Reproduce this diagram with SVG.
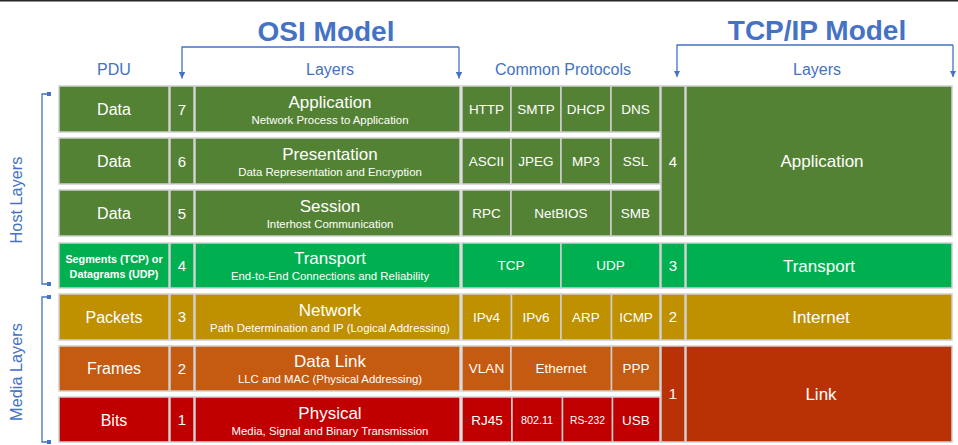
<svg xmlns="http://www.w3.org/2000/svg" width="958" height="445" viewBox="0 0 958 445">
<style>
.c{stroke:#cfcfcf;stroke-width:1.5}
.g{fill:#548235}.t{fill:#00B050}.n{fill:#BF9000}.d{fill:#C55A11}.p{fill:#C00000}.l{fill:#B93206}
text{font-family:"Liberation Sans",Arial,sans-serif;fill:#fff;text-anchor:middle}
.pdu{font-size:16px}.num{font-size:15px}.ttl{font-size:17px}.sub{font-size:11.4px}.pr{font-size:13.5px}.sm{font-size:10.8px}
.hd{fill:#4472C4;font-size:16px}.big{fill:#4472C4;font-size:28px;font-weight:bold}
.br{fill:none;stroke:#4472C4;stroke-width:1.3}
.sq{fill:#4472C4}
</style>
<defs>
<marker id="ah" viewBox="0 0 10 10" refX="10" refY="5" markerWidth="6.5" markerHeight="6.5" markerUnits="userSpaceOnUse" orient="auto">
<path d="M0,0 L10,5 L0,10 Z" fill="#4472C4"/>
</marker>
</defs>
<rect x="0" y="0" width="958" height="1.5" fill="#262626"/>

<g id="titles">
<text class="big" x="326" y="40.5">OSI Model</text>
<text class="big" x="817" y="40">TCP/IP Model</text>
<text class="hd" x="114" y="75">PDU</text>
<text class="hd" x="330" y="75">Layers</text>
<text class="hd" x="563" y="75">Common Protocols</text>
<text class="hd" x="817" y="75">Layers</text>
<text class="hd" x="0" y="0" transform="translate(22,200) rotate(-90)" style="font-size:16.3px">Host Layers</text>
<text class="hd" x="0" y="0" transform="translate(22,372) rotate(-90)" style="font-size:16.3px">Media Layers</text>
</g>

<g id="connectors">
<path class="br" d="M459,47 H182 V78.5" marker-end="url(#ah)"/>
<path class="br" d="M459,47 V78.5" marker-end="url(#ah)"/>
<path class="br" d="M953,45 H677 V77" marker-end="url(#ah)"/>
<path class="br" d="M953,45 V77" marker-end="url(#ah)"/>
<path class="br" d="M47,94 H42 V284 H47"/>
<rect class="sq" x="47" y="92" width="4" height="4"/>
<rect class="sq" x="47" y="282" width="4" height="4"/>
<path class="br" d="M47,297 H42 V442 H47"/>
<rect class="sq" x="47" y="295" width="4" height="4"/>
<rect class="sq" x="47" y="440" width="4" height="4"/>
</g>

<g id="layer7">
<rect class="c g" x="59" y="86" width="110" height="46"/>
<rect class="c g" x="170" y="86" width="24" height="46"/>
<rect class="c g" x="195" y="86" width="265" height="46"/>
<text class="pdu" x="114" y="115">Data</text>
<text class="num" x="182" y="114.5">7</text>
<text class="ttl" x="330" y="107.5">Application</text>
<text class="sub" x="330" y="123.5">Network Process to Application</text>
<rect class="c g" x="462" y="86" width="49" height="46"/>
<rect class="c g" x="511" y="86" width="50" height="46"/>
<rect class="c g" x="561" y="86" width="50" height="46"/>
<rect class="c g" x="611" y="86" width="49" height="46"/>
<text class="pr" x="486.5" y="114">HTTP</text>
<text class="pr" x="536" y="114">SMTP</text>
<text class="pr" x="586" y="114">DHCP</text>
<text class="pr" x="635.5" y="114">DNS</text>
</g>

<g id="layer6">
<rect class="c g" x="59" y="138" width="110" height="46"/>
<rect class="c g" x="170" y="138" width="24" height="46"/>
<rect class="c g" x="195" y="138" width="265" height="46"/>
<text class="pdu" x="114" y="167">Data</text>
<text class="num" x="182" y="166.5">6</text>
<text class="ttl" x="330" y="160">Presentation</text>
<text class="sub" x="330" y="176">Data Representation and Encryption</text>
<rect class="c g" x="462" y="138" width="49" height="46"/>
<rect class="c g" x="511" y="138" width="50" height="46"/>
<rect class="c g" x="561" y="138" width="50" height="46"/>
<rect class="c g" x="611" y="138" width="49" height="46"/>
<text class="pr" x="486.5" y="166">ASCII</text>
<text class="pr" x="536" y="166">JPEG</text>
<text class="pr" x="586" y="166">MP3</text>
<text class="pr" x="635.5" y="166">SSL</text>
</g>

<g id="layer5">
<rect class="c g" x="59" y="190" width="110" height="46"/>
<rect class="c g" x="170" y="190" width="24" height="46"/>
<rect class="c g" x="195" y="190" width="265" height="46"/>
<text class="pdu" x="114" y="219">Data</text>
<text class="num" x="182" y="218.5">5</text>
<text class="ttl" x="330" y="212">Session</text>
<text class="sub" x="330" y="228">Interhost Communication</text>
<rect class="c g" x="462" y="190" width="49" height="46"/>
<rect class="c g" x="511" y="190" width="100" height="46"/>
<rect class="c g" x="611" y="190" width="49" height="46"/>
<text class="pr" x="486.5" y="218">RPC</text>
<text class="pr" x="561" y="218">NetBIOS</text>
<text class="pr" x="635.5" y="218">SMB</text>
</g>

<g id="layer4">
<rect class="c t" x="59" y="243" width="110" height="45"/>
<rect class="c t" x="170" y="243" width="24" height="45"/>
<rect class="c t" x="195" y="243" width="265" height="45"/>
<text class="sm" x="114" y="262.5" style="font-weight:bold">Segments (TCP) or</text>
<text class="sm" x="114" y="278" style="font-weight:bold">Datagrams (UDP)</text>
<text class="num" x="182" y="270.5">4</text>
<text class="ttl" x="330" y="264">Transport</text>
<text class="sub" x="330" y="280">End-to-End Connections and Reliability</text>
<rect class="c t" x="462" y="243" width="99" height="45"/>
<rect class="c t" x="561" y="243" width="99" height="45"/>
<text class="pr" x="511" y="270">TCP</text>
<text class="pr" x="610.5" y="270">UDP</text>
</g>

<g id="layer3">
<rect class="c n" x="59" y="294" width="110" height="46"/>
<rect class="c n" x="170" y="294" width="24" height="46"/>
<rect class="c n" x="195" y="294" width="265" height="46"/>
<text class="pdu" x="114" y="322.5">Packets</text>
<text class="num" x="182" y="322">3</text>
<text class="ttl" x="330" y="315.5">Network</text>
<text class="sub" x="330" y="331.5">Path Determination and IP (Logical Addressing)</text>
<rect class="c n" x="462" y="294" width="49.5" height="46"/>
<rect class="c n" x="511.5" y="294" width="49.5" height="46"/>
<rect class="c n" x="561" y="294" width="50.5" height="46"/>
<rect class="c n" x="611.5" y="294" width="48.5" height="46"/>
<text class="pr" x="486.5" y="321.5">IPv4</text>
<text class="pr" x="536" y="321.5">IPv6</text>
<text class="pr" x="586" y="321.5">ARP</text>
<text class="pr" x="636" y="321.5">ICMP</text>
</g>

<g id="layer2">
<rect class="c d" x="59" y="346" width="110" height="45"/>
<rect class="c d" x="170" y="346" width="24" height="45"/>
<rect class="c d" x="195" y="346" width="265" height="45"/>
<text class="pdu" x="114" y="374">Frames</text>
<text class="num" x="182" y="373.5">2</text>
<text class="ttl" x="330" y="367">Data Link</text>
<text class="sub" x="330" y="383">LLC and MAC (Physical Addressing)</text>
<rect class="c d" x="462" y="346" width="49" height="45"/>
<rect class="c d" x="511" y="346" width="100.5" height="45"/>
<rect class="c d" x="611.5" y="346" width="48.5" height="45"/>
<text class="pr" x="486.5" y="373">VLAN</text>
<text class="pr" x="561" y="373">Ethernet</text>
<text class="pr" x="636" y="373">PPP</text>
</g>

<g id="layer1">
<rect class="c p" x="59" y="397" width="110" height="45"/>
<rect class="c p" x="170" y="397" width="24" height="45"/>
<rect class="c p" x="195" y="397" width="265" height="45"/>
<text class="pdu" x="114" y="425.5">Bits</text>
<text class="num" x="182" y="425">1</text>
<text class="ttl" x="330" y="418.5">Physical</text>
<text class="sub" x="330" y="434.5">Media, Signal and Binary Transmission</text>
<rect class="c p" x="462" y="397" width="50" height="45"/>
<rect class="c p" x="512" y="397" width="50.5" height="45"/>
<rect class="c p" x="562.5" y="397" width="50" height="45"/>
<rect class="c p" x="612.5" y="397" width="47.5" height="45"/>
<text class="pr" x="487" y="424.5">RJ45</text>
<text class="sm" x="537" y="424">802.11</text>
<text class="sm" x="587.5" y="424" style="font-size:10.3px">RS-232</text>
<text class="pr" x="636" y="424.5">USB</text>
</g>

<g id="tcpip-application">
<rect class="c g" x="661" y="86" width="24" height="150"/>
<rect class="c g" x="686" y="86" width="266" height="150"/>
<text class="num" x="673" y="166.5">4</text>
<text class="ttl" x="822" y="167">Application</text>
</g>
<g id="tcpip-transport">
<rect class="c t" x="661" y="243" width="24" height="45"/>
<rect class="c t" x="686" y="243" width="266" height="45"/>
<text class="num" x="673" y="270.5">3</text>
<text class="ttl" x="819" y="271.5">Transport</text>
</g>
<g id="tcpip-internet">
<rect class="c n" x="661" y="294" width="24" height="46"/>
<rect class="c n" x="686" y="294" width="266" height="46"/>
<text class="num" x="673" y="322">2</text>
<text class="ttl" x="821" y="322.5">Internet</text>
</g>
<g id="tcpip-link">
<rect class="c l" x="661" y="346" width="24" height="96"/>
<rect class="c l" x="686" y="346" width="266" height="96"/>
<text class="num" x="673" y="399">1</text>
<text class="ttl" x="821" y="400">Link</text>
</g>
</svg>
